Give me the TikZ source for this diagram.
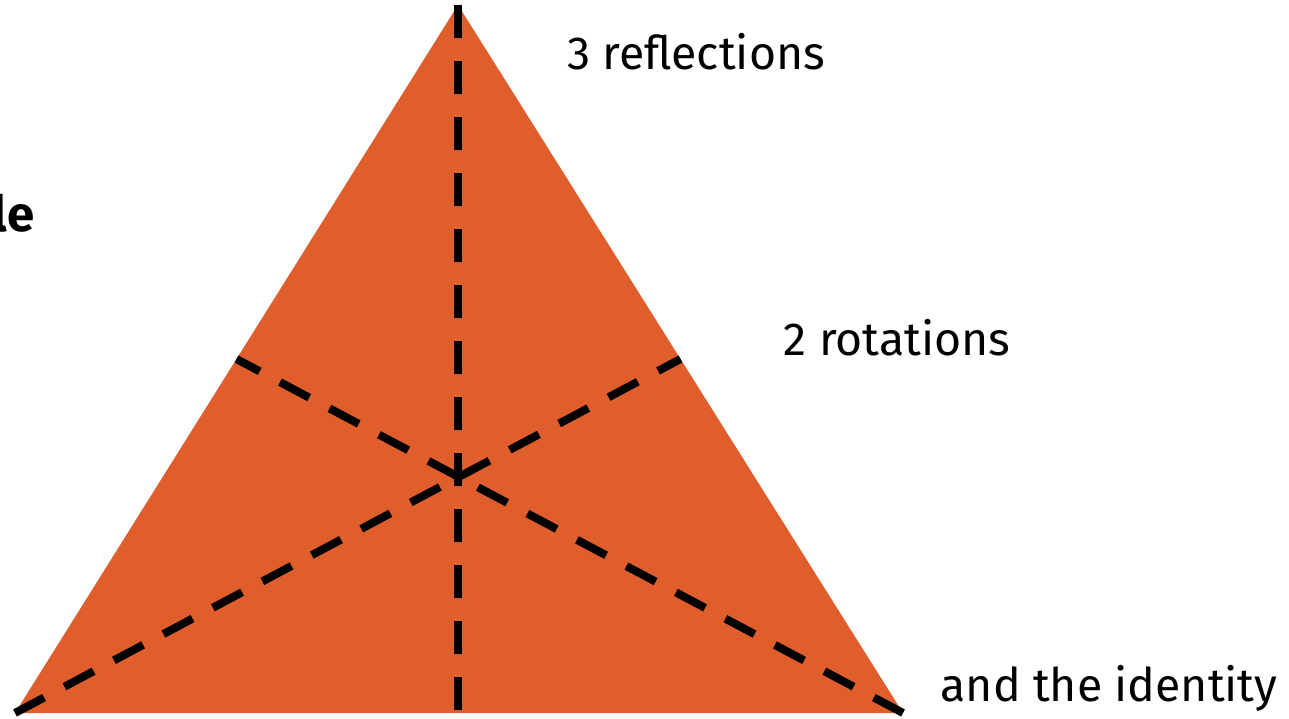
\documentclass[tikz,border=0pt]{standalone}
\usepackage{fontspec}
\setmainfont{Fira Sans}
\usetikzlibrary{calc,positioning}
\definecolor{laranja}{HTML}{E05D2C}

\begin{document}
\begin{tikzpicture}[
  x=0.01cm,y=-0.01cm,
  eixo/.style={line width=0.08cm,black,dash pattern=on 0.33cm off 0.23cm},
  rotulo/.style={font=\fontsize{13.2}{16}\selectfont,inner sep=0pt}
]
  \useasboundingbox (0,0) rectangle (1289,719);
  \coordinate (topo) at (458,5);
  \coordinate (esq) at (15,713);
  \coordinate (dir) at (903,713);
  \coordinate (meioesq) at ($(topo)!0.5!(esq)$);
  \coordinate (meiodir) at ($(topo)!0.5!(dir)$);
  \coordinate (base) at (458,711);
  \fill[laranja] (topo) -- (dir) -- (esq) -- cycle;
  \draw[eixo] (topo) -- (base);
  \draw[eixo] (esq) -- (meiodir);
  \draw[eixo] (dir) -- (meioesq);
  \node[rotulo] (refl) at (696,52) {3 reflections};
  \node[rotulo] (rot) at (897,338) {2 rotations};
  \node[rotulo] (ident) at (1109,688) {and the identity};
  \node[rotulo,font=\fontsize{14}{16}\selectfont\bfseries,anchor=east] (titulo) at (35,213) {le};
\end{tikzpicture}
\end{document}
